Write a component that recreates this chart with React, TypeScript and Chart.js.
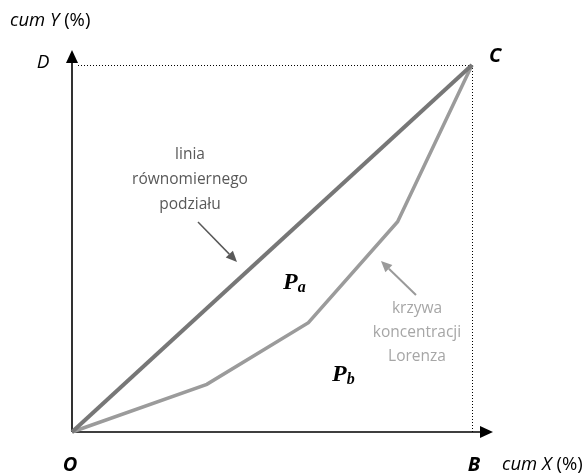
import React, { useEffect, useRef } from "react";
import { Chart, registerables } from "chart.js";

Chart.register(...registerables);

// cumulative share of population (x) and of income (y), 0..1
const lorenzX = [0, 0.337, 0.591, 0.814, 1];
const lorenzY = [0, 0.13, 0.298, 0.573, 1];
const equalityX = [0, 1];
const equalityY = [0, 1];

const equalityLabel = ["linia", "równomiernego", "podziału"];
const lorenzLabel = ["krzywa", "koncentracji", "Lorenza"];
const cornerLabels = ["O", "B", "C", "D"];
const axisNames = ["cum X", "cum Y"];
const areaLabels = ["a", "b"];

const SANS = "'Open Sans', Lato, sans-serif";
const SERIF = "'Liberation Serif', 'DejaVu Serif', serif";

const overlay = {
  id: "overlay",
  beforeDatasetsDraw(chart: any) {
    const { ctx, chartArea: ca } = chart;
    ctx.save();
    ctx.strokeStyle = "#000";
    ctx.lineWidth = 1;
    ctx.setLineDash([1, 2]);
    ctx.beginPath();
    ctx.moveTo(ca.left + 6, ca.top + 0.5);
    ctx.lineTo(ca.right, ca.top + 0.5);
    ctx.moveTo(ca.right + 0.5, ca.top);
    ctx.lineTo(ca.right + 0.5, ca.bottom);
    ctx.stroke();
    ctx.setLineDash([]);
    ctx.lineWidth = 1.6;
    ctx.beginPath();
    ctx.moveTo(ca.left, ca.bottom);
    ctx.lineTo(ca.left, ca.top - 5);
    ctx.moveTo(ca.left, ca.bottom);
    ctx.lineTo(ca.right + 10, ca.bottom);
    ctx.stroke();
    ctx.fillStyle = "#000";
    ctx.beginPath();
    ctx.moveTo(ca.left, ca.top - 15);
    ctx.lineTo(ca.left - 6, ca.top - 2);
    ctx.lineTo(ca.left + 6, ca.top - 2);
    ctx.closePath();
    ctx.fill();
    ctx.beginPath();
    ctx.moveTo(ca.right + 21, ca.bottom);
    ctx.lineTo(ca.right + 8, ca.bottom - 6);
    ctx.lineTo(ca.right + 8, ca.bottom + 6);
    ctx.closePath();
    ctx.fill();
    ctx.restore();
  },
  afterDatasetsDraw(chart: any) {
    const { ctx, chartArea: ca } = chart;
    ctx.save();
    const arrow = (x1: number, y1: number, x2: number, y2: number, color: string, w: number) => {
      ctx.strokeStyle = color;
      ctx.fillStyle = color;
      ctx.lineWidth = w;
      const ang = Math.atan2(y2 - y1, x2 - x1);
      const hl = 11;
      const bx = x2 - hl * Math.cos(ang);
      const by = y2 - hl * Math.sin(ang);
      ctx.beginPath();
      ctx.moveTo(x1, y1);
      ctx.lineTo(bx, by);
      ctx.stroke();
      ctx.beginPath();
      ctx.moveTo(x2, y2);
      ctx.lineTo(bx + 5 * Math.sin(ang), by - 5 * Math.cos(ang));
      ctx.lineTo(bx - 5 * Math.sin(ang), by + 5 * Math.cos(ang));
      ctx.closePath();
      ctx.fill();
    };
    arrow(ca.left + 126, ca.top + 157, ca.left + 165, ca.top + 197, "#595959", 1.5);
    arrow(ca.left + 344, ca.top + 230, ca.left + 309, ca.top + 196, "#9a9a9a", 2);

    ctx.textBaseline = "middle";
    ctx.textAlign = "center";
    ctx.font = `15.5px ${SANS}`;
    ctx.fillStyle = "#595959";
    equalityLabel.forEach((t, i) => ctx.fillText(t, ca.left + 118, ca.top + 90 + i * 25));
    ctx.fillStyle = "#a6a6a6";
    lorenzLabel.forEach((t, i) => ctx.fillText(t, ca.left + 345, ca.top + 244 + i * 24));

    ctx.fillStyle = "#000";
    ctx.font = `bold italic 20px ${SANS}`;
    ctx.fillText(cornerLabels[0], ca.left - 2, ca.bottom + 33);
    ctx.fillText(cornerLabels[1], ca.left + 402, ca.bottom + 33);
    ctx.fillText(cornerLabels[2], ca.right + 23, ca.top - 9);
    ctx.font = `italic 19px ${SANS}`;
    ctx.fillText(cornerLabels[3], ca.left - 29, ca.top - 2);

    ctx.textAlign = "left";
    const axisName = (name: string, x: number, y: number) => {
      ctx.font = `italic 18.5px ${SANS}`;
      ctx.fillText(name, x, y);
      const w = ctx.measureText(name + " ").width;
      ctx.font = `18.5px ${SANS}`;
      ctx.fillText("(%)", x + w, y);
    };
    axisName(axisNames[0], ca.right + 30, ca.bottom + 33);
    axisName(axisNames[1], ca.left - 62, ca.top - 44);

    const area = (sub: string, x: number, y: number) => {
      ctx.font = `bold italic 24px ${SERIF}`;
      ctx.fillText("P", x, y);
      const w = ctx.measureText("P").width;
      ctx.font = `bold italic 16px ${SERIF}`;
      ctx.fillText(sub, x + w, y + 5);
    };
    area(areaLabels[0], ca.left + 211, ca.top + 218);
    area(areaLabels[1], ca.left + 260, ca.top + 310);
    ctx.restore();
  },
};

export default function App() {
  const ref = useRef<HTMLCanvasElement>(null);
  useEffect(() => {
    if (!ref.current) return;
    const chart = new Chart(ref.current, {
      type: "scatter",
      data: {
        datasets: [
          {
            data: equalityX.map((x, i) => ({ x, y: equalityY[i] })),
            showLine: true,
            borderColor: "#777777",
            borderWidth: 4,
            pointRadius: 0,
            clip: false,
          } as any,
          {
            data: lorenzX.map((x, i) => ({ x, y: lorenzY[i] })),
            showLine: true,
            borderColor: "#9b9b9b",
            borderWidth: 3.5,
            pointRadius: 0,
            clip: false,
          } as any,
        ],
      },
      options: {
        animation: false,
        responsive: false,
        layout: { padding: { left: 72, top: 65, right: 114, bottom: 44 } },
        plugins: { legend: { display: false }, tooltip: { enabled: false } },
        scales: {
          x: { type: "linear", min: 0, max: 1, display: false },
          y: { type: "linear", min: 0, max: 1, display: false },
        },
      },
      plugins: [overlay],
    });
    return () => chart.destroy();
  }, []);
  return (
    <div style={{ position: "fixed", left: 0, top: 0, width: 586, height: 476, background: "#fff" }}>
      <canvas ref={ref} width={586} height={476} style={{ width: 586, height: 476, display: "block" }} />
    </div>
  );
}
